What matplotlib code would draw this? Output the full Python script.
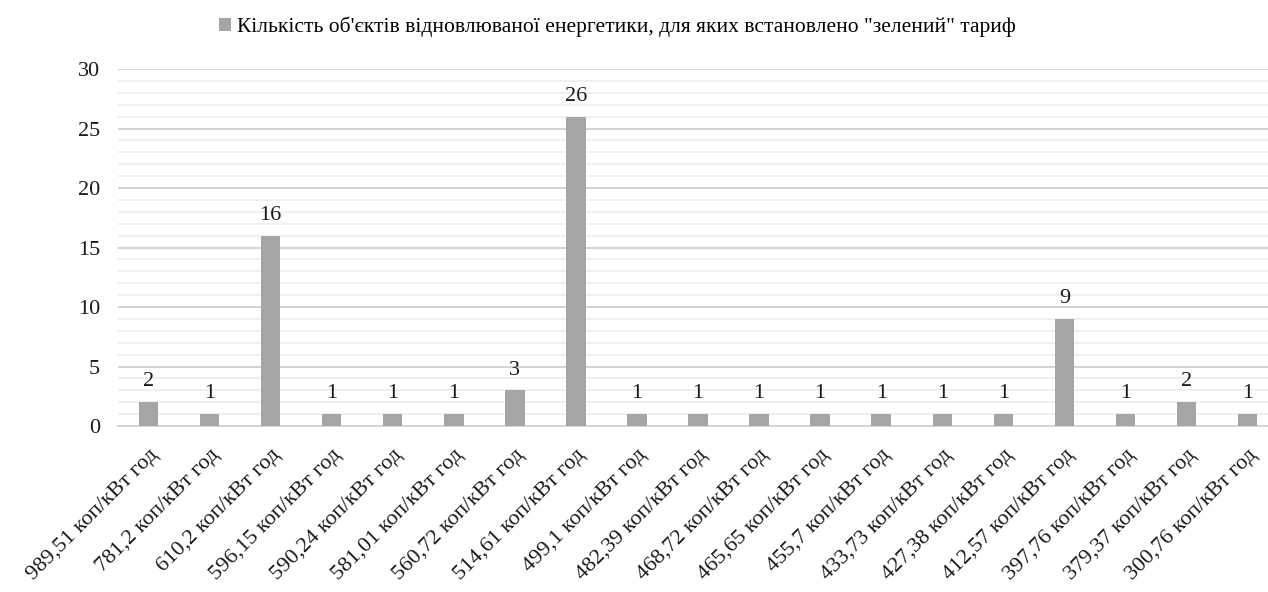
import numpy as np
import matplotlib.pyplot as plt
from matplotlib.ticker import MultipleLocator

plt.rcParams['font.family'] = ['Liberation Serif', 'DejaVu Serif']

# tariffs (categories) and number of objects
tariffs = ["989,51", "781,2", "610,2", "596,15", "590,24", "581,01", "560,72",
           "514,61", "499,1", "482,39", "468,72", "465,65", "455,7", "433,73",
           "427,38", "412,57", "397,76", "379,37", "300,76"]
counts = [2, 1, 16, 1, 1, 1, 3, 26, 1, 1, 1, 1, 1, 1, 1, 9, 1, 2, 1]
labels = [t + " коп/кВт год" for t in tariffs]
series_name = 'Кількість об\'єктів відновлюваної енергетики, для яких встановлено "зелений" тариф'

fig = plt.figure(figsize=(12.68, 5.92), dpi=100)
ax = fig.add_axes([0.093, 0.2804, 0.915, 0.603])

x = np.arange(len(counts))
bars = ax.bar(x, counts, width=0.32, color="#a5a5a5", zorder=3, label=series_name)

for xi, v in zip(x, counts):
    ax.text(xi, v + 0.9, str(v), ha="center", va="bottom", fontsize=16, color="#1a1a1a")

ax.set_ylim(0, 30)
ax.set_xlim(-0.5, len(counts) - 0.5)
ax.yaxis.set_major_locator(MultipleLocator(5))
ax.yaxis.set_minor_locator(MultipleLocator(1))
ax.grid(axis="y", which="major", color="#d4d4d4", linewidth=1.4, zorder=0)
ax.grid(axis="y", which="minor", color="#ececec", linewidth=1.2, zorder=0)
ax.tick_params(axis="both", which="both", length=0, labelsize=16, colors="#1a1a1a")
ax.tick_params(axis="y", pad=13)

ax.set_xticks(x)
ax.set_xticklabels(labels, rotation=45, ha="right", rotation_mode="anchor")
ax.tick_params(axis="x", pad=14)

for s in ["top", "right", "left"]:
    ax.spines[s].set_visible(False)
ax.spines["bottom"].set_color("#d4d4d4")
ax.spines["bottom"].set_linewidth(1.4)

fig.legend(handles=[bars], loc="upper center", bbox_to_anchor=(0.487, 1.005),
           frameon=False, fontsize=15.5, handlelength=0.55, handleheight=0.55,
           handletextpad=0.3)

fig.savefig("out.png", dpi=100)
